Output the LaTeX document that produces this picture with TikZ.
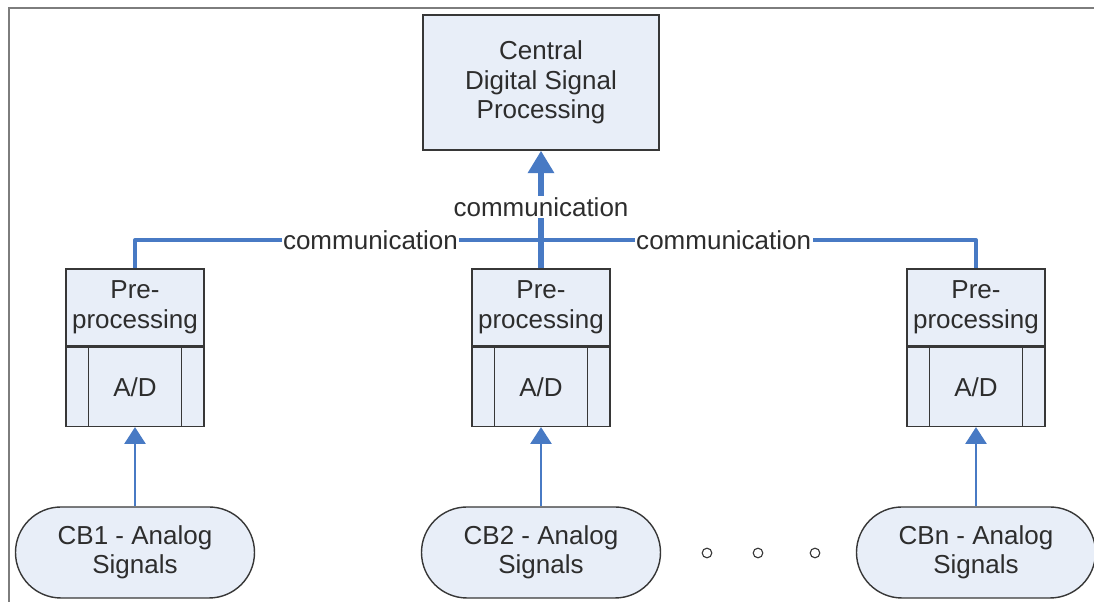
\documentclass[tikz,border=0pt]{standalone}
\usepackage{fontspec}
\setmainfont{Liberation Sans}
\usetikzlibrary{arrows.meta,shapes.misc,calc}
\definecolor{linkblue}{RGB}{72,122,196}
\definecolor{boxfill}{RGB}{232,238,248}
\definecolor{boxline}{RGB}{55,55,55}
\definecolor{txtgray}{RGB}{45,45,45}
\definecolor{framegray}{RGB}{125,125,125}
\tikzset{
  block/.style={draw=boxline, line width=1pt, fill=boxfill, text=txtgray, align=center,
    font=\fontsize{18.5}{21}\selectfont, inner sep=0pt},
  prebox/.style={block, minimum width=3.45cm, minimum height=1.925cm},
  adbox/.style={block, minimum width=3.45cm, minimum height=1.975cm},
  source/.style={block, rounded rectangle, minimum width=5.975cm, minimum height=2.275cm},
  link/.style={draw=linkblue, line width=3pt, line join=round},
  feed/.style={draw=linkblue, line width=1.8pt, -{Triangle[width=15pt,length=12pt]}},
  commlabel/.style={fill=white, text=txtgray, font=\fontsize{18.5}{21}\selectfont, inner sep=1pt},
}
\begin{document}
\begin{tikzpicture}
            \useasboundingbox (0, 0) rectangle (27.35, 15.05);
            \draw[framegray, line width=2pt] (0.225, 0) -- (0.225, 14.85) -- (27.35, 14.85);
            \node[block, minimum width=5.9cm, minimum height=3.375cm] (central) at (13.525, 12.9875) {Central\\Digital Signal\\Processing};
            \foreach \n/\x/\lab in {1/3.375/CB1, 2/13.525/CB2, 3/24.4/CBn} {
                \node[prebox] (pre\n) at (\x, 7.3625) {Pre-\\processing};
                \node[adbox, anchor=north] (ad\n) at (pre\n.south) {A/D};
                \draw[boxline, line width=1pt] ($(ad\n.north west)+(0.575, 0)$) -- ($(ad\n.south west)+(0.575, 0)$);
                \draw[boxline, line width=1pt] ($(ad\n.north east)+(-0.575, 0)$) -- ($(ad\n.south east)+(-0.575, 0)$);
                \node[source] (src\n) at (\x, 1.2375) {\lab{} - Analog\\Signals};
                \draw[feed] (src\n.north) -- (ad\n.south);
            }
            \coordinate (busl) at ($(pre1.north)+(0, 0.7)$);
            \coordinate (busr) at ($(pre3.north)+(0, 0.7)$);
            \draw[link] (pre1.north) -- (busl) -- node[commlabel, pos=0.28] (lbll) {communication} node[commlabel, pos=0.70] (lblr) {communication} (busr) -- (pre3.north);
            \draw[link, line width=4.5pt, -{Triangle[width=18pt, length=16pt]}] (pre2.north) -- node[commlabel, pos=0.52] (lblc) {communication} (central.south);
            \foreach \x in {17.675, 18.95, 20.375}
                \draw[boxline, line width=0.8pt] (\x, 1.225) circle (0.12);
        \end{tikzpicture}
\end{document}
